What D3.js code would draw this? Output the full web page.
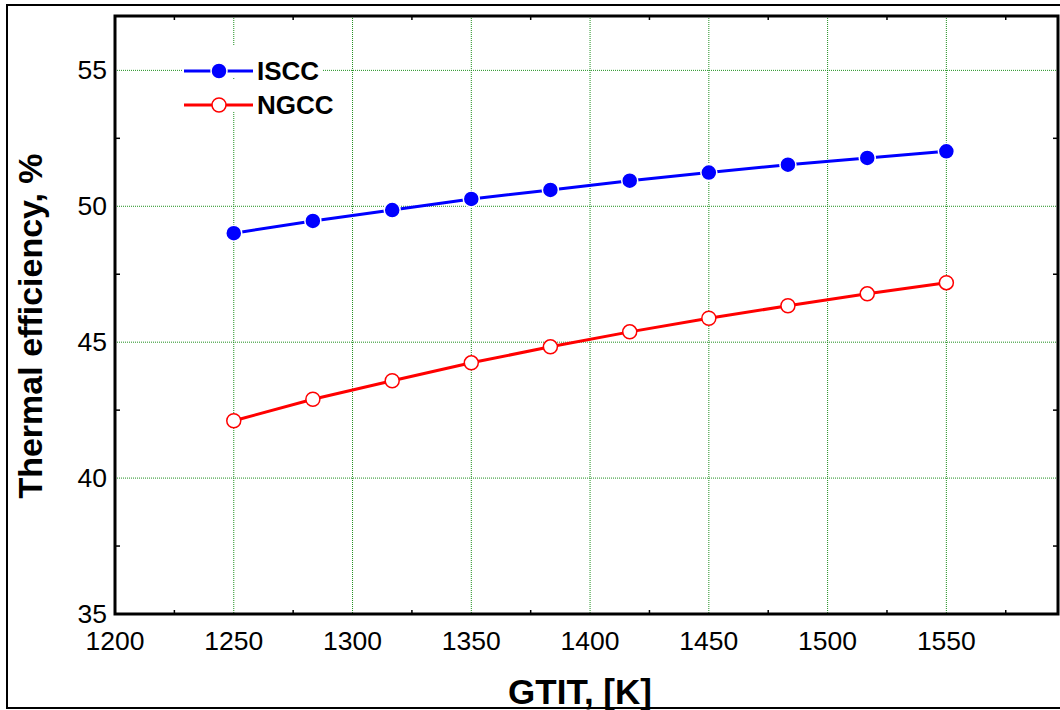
<!DOCTYPE html>
<html>
<head>
<meta charset="utf-8">
<script src="https://cdn.jsdelivr.net/npm/d3@7"></script>
<style>
  body { margin: 0; background: #fff; }
  svg { display: block; font-family: "Liberation Sans", Arial, sans-serif; }
</style>
</head>
<body>
<div id="chart"></div>
<script>
// data
const gtit = [1250, 1283.3, 1316.7, 1350, 1383.3, 1416.7, 1450, 1483.3, 1516.7, 1550];
const iscc = [49.01, 49.46, 49.86, 50.27, 50.6, 50.94, 51.24, 51.53, 51.78, 52.02];
const ngcc = [42.11, 42.9, 43.58, 44.24, 44.83, 45.38, 45.88, 46.34, 46.78, 47.19];
const xMajor = [1200, 1250, 1300, 1350, 1400, 1450, 1500, 1550];
const xMinor = [1225, 1275, 1325, 1375, 1425, 1475, 1525, 1575];
const yMajor = [35, 40, 45, 50, 55];
const yMinor = [37.5, 42.5, 47.5, 52.5];
const seriesNames = ["ISCC", "NGCC"];

const width = 1060, height = 710;
const plotL = 115, plotR = 1058, plotT = 16, plotB = 614;

const x = d3.scaleLinear().domain([1200, 1597]).range([plotL, plotR]);
const y = d3.scaleLinear().domain([35, 57]).range([plotB, plotT]);

const svg = d3.select("#chart").append("svg")
    .attr("width", width)
    .attr("height", height);

// outer frame
svg.append("rect")
    .attr("x", 7).attr("y", 5)
    .attr("width", 1070).attr("height", 703)
    .attr("fill", "none").attr("stroke", "#000").attr("stroke-width", 2);

const gridColor = "#1f8f1f";

// grid
svg.append("g").selectAll("line").data(xMajor.filter(d => d > 1200)).join("line")
    .attr("x1", d => x(d)).attr("x2", d => x(d))
    .attr("y1", plotT).attr("y2", plotB)
    .attr("stroke", gridColor).attr("stroke-width", 1).attr("stroke-dasharray", "1,1");
svg.append("g").selectAll("line").data(yMajor.filter(d => d > 35)).join("line")
    .attr("x1", plotL).attr("x2", plotR)
    .attr("y1", d => y(d)).attr("y2", d => y(d))
    .attr("stroke", gridColor).attr("stroke-width", 1).attr("stroke-dasharray", "1,1");

// minor ticks, inward on all four sides
const tk = svg.append("g").attr("stroke", "#000").attr("stroke-width", 1.5);
xMinor.forEach(v => {
    tk.append("line").attr("x1", x(v)).attr("x2", x(v)).attr("y1", plotB).attr("y2", plotB - 4);
    tk.append("line").attr("x1", x(v)).attr("x2", x(v)).attr("y1", plotT).attr("y2", plotT + 4);
});
yMinor.forEach(v => {
    tk.append("line").attr("x1", plotL).attr("x2", plotL + 5).attr("y1", y(v)).attr("y2", y(v));
    tk.append("line").attr("x1", plotR).attr("x2", plotR - 5).attr("y1", y(v)).attr("y2", y(v));
});

// tick labels
svg.append("g").selectAll("text").data(xMajor).join("text")
    .attr("x", d => x(d)).attr("y", 650)
    .attr("text-anchor", "middle")
    .style("font-size", "26.5px")
    .text(d => d);
svg.append("g").selectAll("text").data(yMajor).join("text")
    .attr("x", 107).attr("y", d => y(d) + 9)
    .attr("text-anchor", "end")
    .style("font-size", "26.5px")
    .text(d => d);

// axis titles
svg.append("text")
    .attr("transform", `translate(42, 326) rotate(-90)`)
    .attr("text-anchor", "middle")
    .style("font-size", "34px").style("font-weight", "bold")
    .text("Thermal efficiency, %");
svg.append("text")
    .attr("x", 580).attr("y", 704)
    .attr("text-anchor", "middle")
    .style("font-size", "35px").style("font-weight", "bold")
    .text("GTIT, [K]");

// series
const line = d3.line().x(d => x(d[0])).y(d => y(d[1]));
const isccPts = gtit.map((g, i) => [g, iscc[i]]);
const ngccPts = gtit.map((g, i) => [g, ngcc[i]]);

svg.append("path").datum(isccPts).attr("d", line)
    .attr("fill", "none").attr("stroke", "#0000ff").attr("stroke-width", 3);
svg.append("g").selectAll("circle").data(isccPts).join("circle")
    .attr("cx", d => x(d[0])).attr("cy", d => y(d[1])).attr("r", 8)
    .attr("fill", "#0000ff").attr("stroke", "#fff").attr("stroke-width", 1.5);

svg.append("path").datum(ngccPts).attr("d", line)
    .attr("fill", "none").attr("stroke", "#ff0000").attr("stroke-width", 3);
svg.append("g").selectAll("circle").data(ngccPts).join("circle")
    .attr("cx", d => x(d[0])).attr("cy", d => y(d[1])).attr("r", 7)
    .attr("fill", "#fff").attr("stroke", "#ff0000").attr("stroke-width", 1.5);

// legend
const legend = svg.append("g");
seriesNames.forEach((name, i) => {
    const ly = 71 + i * 34;
    const col = i === 0 ? "#0000ff" : "#ff0000";
    legend.append("rect").attr("x", 182).attr("y", ly - 25).attr("width", 141).attr("height", 31).attr("fill", "#fff");
    legend.append("line").attr("x1", 184).attr("x2", 253).attr("y1", ly).attr("y2", ly)
        .attr("stroke", col).attr("stroke-width", 3);
    legend.append("circle").attr("cx", 219).attr("cy", ly).attr("r", i === 0 ? 8 : 7)
        .attr("fill", i === 0 ? col : "#fff")
        .attr("stroke", i === 0 ? "#fff" : col).attr("stroke-width", 1.5);
    legend.append("text").attr("x", 257).attr("y", ly + 9)
        .style("font-size", "26px").style("font-weight", "bold")
        .text(name);
});

// plot frame
svg.append("rect")
    .attr("x", plotL).attr("y", plotT)
    .attr("width", plotR - plotL).attr("height", plotB - plotT)
    .attr("fill", "none").attr("stroke", "#000").attr("stroke-width", 3);
</script>
</body>
</html>
